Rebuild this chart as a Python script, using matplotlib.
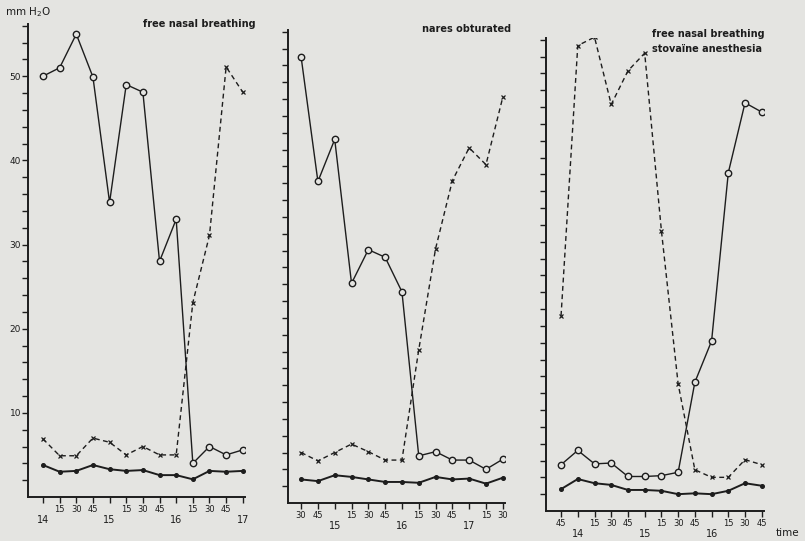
import matplotlib
matplotlib.use('Agg')
import matplotlib.pyplot as plt

# clock times of the readings (one every quarter hour)
times1 = ['14:00', '14:15', '14:30', '14:45', '15:00', '15:15', '15:30',
          '15:45', '16:00', '16:15', '16:30', '16:45', '17:00']
times2 = ['14:30', '14:45', '15:00', '15:15', '15:30', '15:45', '16:00',
          '16:15', '16:30', '16:45', '17:00', '17:15', '17:30']
times3 = ['13:45', '14:00', '14:15', '14:30', '14:45', '15:00', '15:15',
          '15:30', '15:45', '16:00', '16:15', '16:30', '16:45']

# pressure in mm H2O
circles1 = [50.0, 51.0, 55.0, 49.9, 35.0, 49.0, 48.1, 28.0, 33.0, 4.0, 6.0, 5.0, 5.6]
crosses1 = [6.9, 4.9, 4.9, 7.0, 6.5, 5.0, 6.0, 5.0, 5.0, 23.1, 31.1, 51.1, 48.1]
dots1 = [3.8, 3.0, 3.1, 3.8, 3.3, 3.1, 3.2, 2.6, 2.6, 2.1, 3.1, 3.0, 3.1]

circles2 = [53.0, 38.2, 43.2, 26.1, 30.1, 29.2, 25.1, 5.6, 6.1, 5.1, 5.1, 4.0, 5.2]
crosses2 = [6.0, 5.0, 6.0, 7.0, 6.1, 5.1, 5.1, 18.2, 30.2, 38.3, 42.2, 40.2, 48.2]
dots2 = [2.8, 2.6, 3.3, 3.1, 2.8, 2.5, 2.5, 2.4, 3.1, 2.8, 2.9, 2.3, 3.0]

circles3 = [5.5, 7.2, 5.6, 5.7, 4.1, 4.1, 4.2, 4.6, 15.3, 20.2, 40.2, 48.5, 47.4]
crosses3 = [23.2, 55.3, 56.3, 48.3, 52.3, 54.4, 33.3, 15.1, 4.9, 4.0, 4.0, 6.1, 5.5]
dots3 = [2.6, 3.8, 3.3, 3.1, 2.5, 2.5, 2.4, 2.0, 2.1, 2.0, 2.4, 3.3, 3.0]

yTicks = list(range(2, 57, 2))
yLabels = [10, 20, 30, 40, 50]

W, H = 805, 541
paper = '#e4e4e1'
ink = '#1d1d1d'


def toMinutes(t):
    h, m = t.split(':')
    return int(h) * 60 + int(m)


def drawPanel(box, times, circles, crosses, dots, leftPad, showLabels):
    left, top, right, bottom = box
    ax = fig.add_axes([left / W, 1 - bottom / H, (right - left) / W, (bottom - top) / H])
    ax.set_facecolor('none')
    x = [toMinutes(t) for t in times]

    ax.plot(x, crosses, color=ink, lw=1.0, dashes=(3.5, 2.5), marker='x',
            ms=3, mew=0.9)
    ax.plot(x, circles, color=ink, lw=1.0, marker='o', ms=4.6, mew=1.0,
            mfc=paper, mec=ink)
    ax.plot(x, dots, color=ink, lw=1.4, marker='o', ms=2.6, mfc=ink, mec=ink)

    ax.set_xlim(x[0] - leftPad, x[-1] + 2)
    ax.set_ylim(0, 56.2)
    for s in ['top', 'right']:
        ax.spines[s].set_visible(False)
    for s in ['left', 'bottom']:
        ax.spines[s].set_color(ink)
        ax.spines[s].set_linewidth(1.4)

    ax.set_yticks(yTicks)
    if showLabels:
        ax.set_yticklabels([str(v) if v in yLabels else '' for v in yTicks])
    else:
        ax.set_yticklabels([])
    ax.tick_params(axis='y', length=4, width=1.0, color=ink, labelsize=6.5,
                   labelcolor=ink, pad=1)

    ax.set_xticks(x)
    ax.set_xticklabels(['' if t.endswith('00') else t.split(':')[1] for t in times])
    ax.tick_params(axis='x', length=4, width=1.0, color=ink, labelsize=6,
                   labelcolor=ink, pad=2)
    for xi, t in zip(x, times):
        if t.endswith('00'):
            ax.annotate(t.split(':')[0], xy=(xi, 0), xycoords=('data', 'axes fraction'),
                        xytext=(0, -13), textcoords='offset points', ha='center',
                        va='top', fontsize=7, color=ink)
    return ax


fig = plt.figure(figsize=(W / 100, H / 100), dpi=100)
fig.patch.set_facecolor(paper)

drawPanel((28, 24, 245, 497), times1, circles1, crosses1, dots1, 13.5, True)
drawPanel((288, 30, 505, 503), times2, circles2, crosses2, dots2, 11.7, False)
drawPanel((546, 38, 764, 511), times3, circles3, crosses3, dots3, 13.5, False)

fig.text(28 / W, 1 - 12 / H, 'mm H$_2$O', ha='center', va='center', fontsize=7.5,
         color=ink)
fig.text(199 / W, 1 - 24 / H, 'free nasal breathing', ha='center', va='center',
         fontsize=7, fontweight='bold', color=ink)
fig.text(467 / W, 1 - 29 / H, 'nares obturated', ha='center', va='center',
         fontsize=7, fontweight='bold', color=ink)
fig.text(652 / W, 1 - 34 / H, 'free nasal breathing', ha='left', va='center',
         fontsize=7, fontweight='bold', color=ink)
fig.text(652 / W, 1 - 49 / H, 'stovaïne anesthesia', ha='left', va='center',
         fontsize=7, fontweight='bold', color=ink)
fig.text(787 / W, 1 - 533 / H, 'time', ha='center', va='center', fontsize=7.5,
         color=ink)

fig.savefig('out.png', dpi=100, facecolor=paper)
